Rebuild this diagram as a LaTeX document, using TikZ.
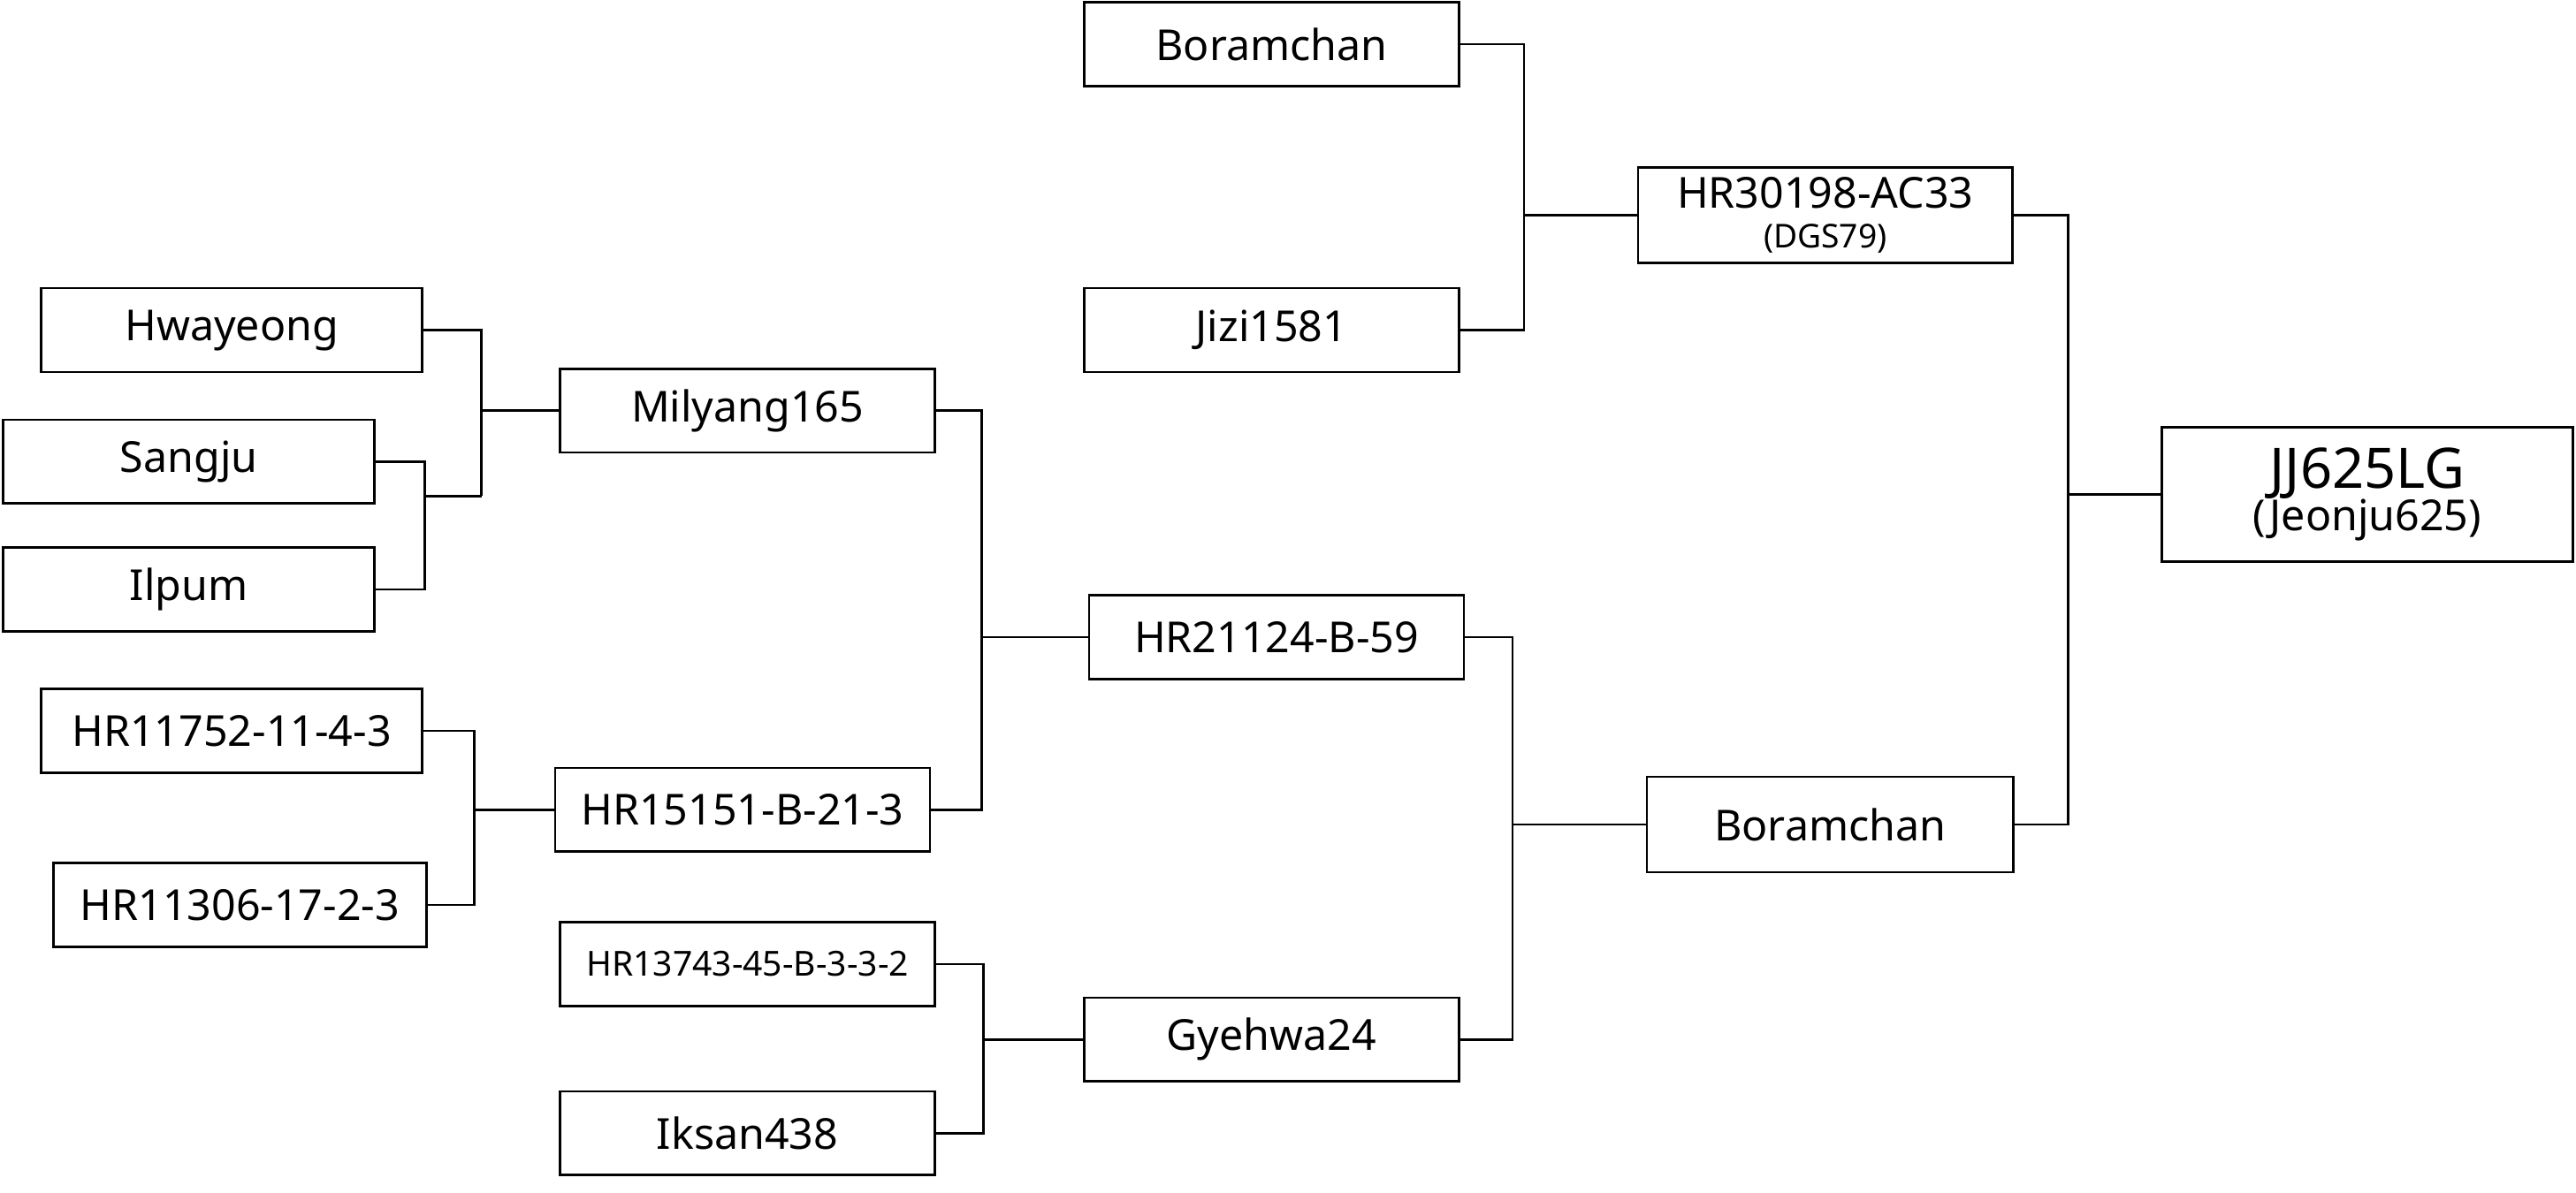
\documentclass[tikz,border=0pt]{standalone}
\usepackage{fontspec}
\setmainfont{Noto Sans}
\usetikzlibrary{positioning}
\tikzset{
  line/.style={line width=1.4pt},
  box/.style={draw,line width=1.4pt,minimum width=228pt,minimum height=51pt,inner sep=0pt,
    font=\fontsize{26}{30}\selectfont},
}
\begin{document}
\begin{tikzpicture}[x=1pt,y=-1pt]
  \useasboundingbox (0,0) rectangle (1568,726);
  % parents, left column
  \node[box,minimum width=232pt] (hwa) at (141,201) {Hwayeong};
  \node[box,minimum width=226pt] (sang) at (115,281) {Sangju};
  \node[box,minimum width=226pt] (ilp) at (115,359) {Ilpum};
  \node[box,minimum width=232pt] (hr11752) at (141,445) {HR11752-11-4-3};
  \node[box,minimum width=227pt] (hr11306) at (146,551) {HR11306-17-2-3};
  % second column
  \node[box] (mil) at (455,250) {Milyang165};
  \node[box] (hr15151) at (452,493) {HR15151-B-21-3};
  \node[box,font=\fontsize{21}{25}\selectfont] (hr13743) at (455,587) {HR13743-45-B-3-3-2};
  \node[box] (iks) at (455,690) {Iksan438};
  % third column
  \node[box] (bor) at (774,27) {Boramchan};
  \node[box] (jizi) at (774,201) {Jizi1581};
  \node[box] (hr21124) at (777,388) {HR21124-B-59};
  \node[box] (gye) at (774,633) {Gyehwa24};
  % fourth column
  \node[box,minimum height=58pt,align=center] (hr30198) at (1111,131)
    {HR30198-AC33\\[-6pt]{\fontsize{20}{24}\selectfont (DGS79)}};
  \node[box,minimum width=223pt,minimum height=58pt] (bor2) at (1114,502) {Boramchan};
  % final
  \node[box,minimum width=250pt,minimum height=82pt,align=center] (jj) at (1441,301)
    {{\fontsize{34}{38}\selectfont\bfseries JJ625LG}\\[-4pt](Jeonju625)};
  % connectors
  \draw[line] (sang.east) -- ++(30,0) coordinate (sib) |- (ilp.east);
  \draw[line] (sib |- 0,302) coordinate (sij) -- (293,302) coordinate (hwj);
  \draw[line] (hwa.east) -| (hwj);
  \draw[line] (hwj |- mil.west) -- (mil.west);
  \draw[line] (hr11752.east) -- ++(31,0) coordinate (hrb) |- (hr11306.east);
  \draw[line] (hrb |- hr15151.west) -- (hr15151.west);
  \draw[line] (mil.east) -- ++(28,0) coordinate (mb) |- (hr15151.east);
  \draw[line] (mb |- hr21124.west) -- (hr21124.west);
  \draw[line] (hr13743.east) -- ++(29,0) coordinate (gb) |- (iks.east);
  \draw[line] (gb |- gye.west) -- (gye.west);
  \draw[line] (bor.east) -- ++(39,0) coordinate (bb) |- (jizi.east);
  \draw[line] (bb |- hr30198.west) -- (hr30198.west);
  \draw[line] (hr21124.east) -- ++(29,0) coordinate (rb) |- (gye.east);
  \draw[line] (rb |- bor2.west) -- (bor2.west);
  \draw[line] (hr30198.east) -- ++(33,0) coordinate (fb) |- (bor2.east);
  \draw[line] (fb |- jj.west) -- (jj.west);
\end{tikzpicture}
\end{document}
